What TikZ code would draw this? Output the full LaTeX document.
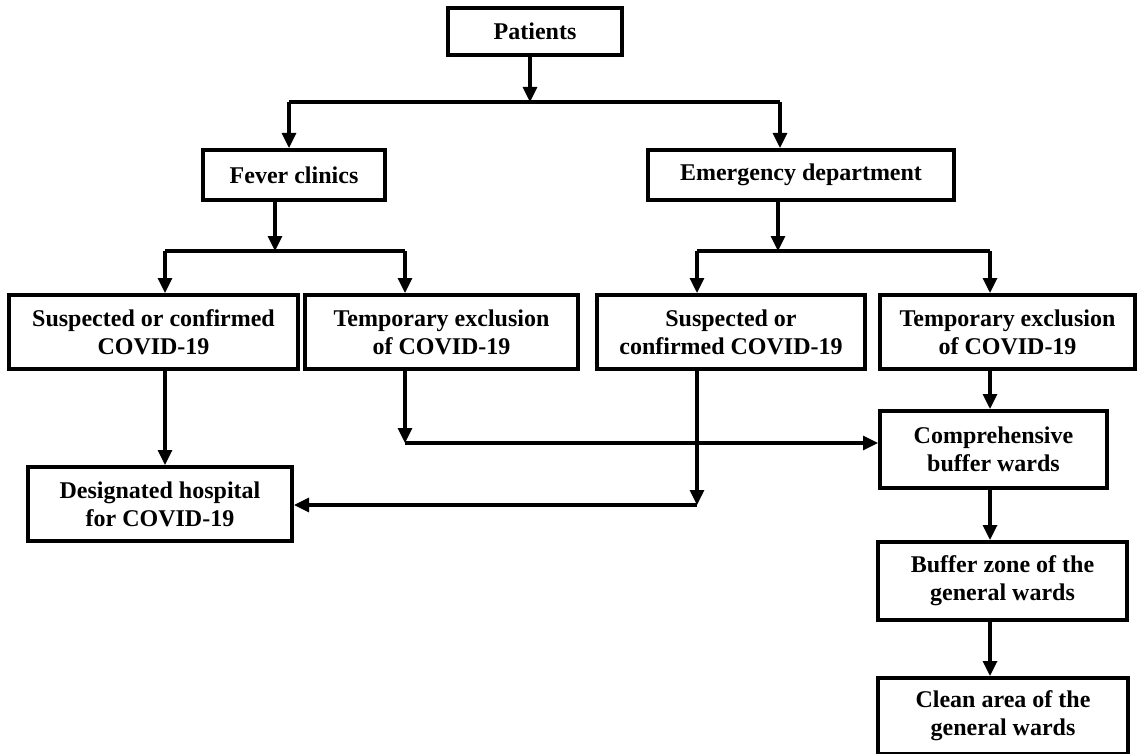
\documentclass[tikz,border=0pt]{standalone}
\usepackage{fontspec}
\setmainfont{Liberation Serif}
\usetikzlibrary{arrows.meta}

\begin{document}
\begin{tikzpicture}[x=1pt,y=-1pt,
        box/.style={draw,line width=4pt,align=center,inner sep=0pt,
            font=\bfseries\fontsize{24}{28}\selectfont},
        link/.style={line width=3.2pt,-{Triangle[length=15pt,width=14pt]}},
        wire/.style={line width=3.2pt}]
        \useasboundingbox (0,0) rectangle (1137,754);

        % boxes
        \node[box,minimum width=174pt,minimum height=47pt] (pat) at (535,31.5) {Patients};
        \node[box,minimum width=182pt,minimum height=50pt] (fev) at (294,175) {Fever clinics};
        \node[box,minimum width=306pt,minimum height=50pt] (emg) at (801,175) {Emergency department};

        \node[box,minimum width=289pt,minimum height=74pt] (susA) at (153.5,332) {Suspected or confirmed\\COVID-19};
        \node[box,minimum width=273pt,minimum height=74pt] (tmpA) at (441.5,332) {Temporary exclusion\\of COVID-19};
        \node[box,minimum width=268pt,minimum height=74pt] (susB) at (731,332) {Suspected or\\confirmed COVID-19};
        \node[box,minimum width=255pt,minimum height=74pt] (tmpB) at (1007.5,332) {Temporary exclusion\\of COVID-19};

        \node[box,minimum width=264pt,minimum height=74pt] (desig) at (160,504) {Designated hospital\\for COVID-19};
        \node[box,minimum width=227pt,minimum height=77pt] (comp) at (993.5,449.5) {Comprehensive\\buffer wards};
        \node[box,minimum width=249pt,minimum height=78pt] (bufz) at (1002.5,581) {Buffer zone of the\\general wards};
        \node[box,minimum width=250pt,minimum height=76pt] (clean) at (1003,716) {Clean area of the\\general wards};

        % junctions
        \coordinate (top) at (530,102);
        \coordinate (topL) at (289,102);
        \coordinate (topR) at (780,102);
        \coordinate (fevM) at (275,251);
        \coordinate (fevL) at (165,251);
        \coordinate (fevR) at (405,251);
        \coordinate (emgM) at (778,251);
        \coordinate (emgL) at (697,251);
        \coordinate (emgR) at (990,251);
        \coordinate (tmpX) at (405,443);
        \coordinate (susX) at (697,505);

        \draw[link] (top |- pat.south) -- (top);
        \draw[wire] (topL) -- (topR);
        \draw[link] (topL) -- (topL |- fev.north);
        \draw[link] (topR) -- (topR |- emg.north);

        \draw[link] (fevM |- fev.south) -- (fevM);
        \draw[wire] (fevL) -- (fevR);
        \draw[link] (fevL) -- (fevL |- susA.north);
        \draw[link] (fevR) -- (fevR |- tmpA.north);

        \draw[link] (emgM |- emg.south) -- (emgM);
        \draw[wire] (emgL) -- (emgR);
        \draw[link] (emgL) -- (emgL |- susB.north);
        \draw[link] (emgR) -- (emgR |- tmpB.north);

        \draw[link] (fevL |- susA.south) -- (fevL |- desig.north);
        \draw[link] (fevR |- tmpA.south) -- (tmpX);
        \draw[link] (tmpX) -- (tmpX -| comp.west);
        \draw[link] (emgL |- susB.south) -- (susX);
        \draw[link] (susX) -- (susX -| desig.east);

        \draw[link] (emgR |- tmpB.south) -- (emgR |- comp.north);
        \draw[link] (emgR |- comp.south) -- (emgR |- bufz.north);
        \draw[link] (emgR |- bufz.south) -- (emgR |- clean.north);
    \end{tikzpicture}
\end{document}
